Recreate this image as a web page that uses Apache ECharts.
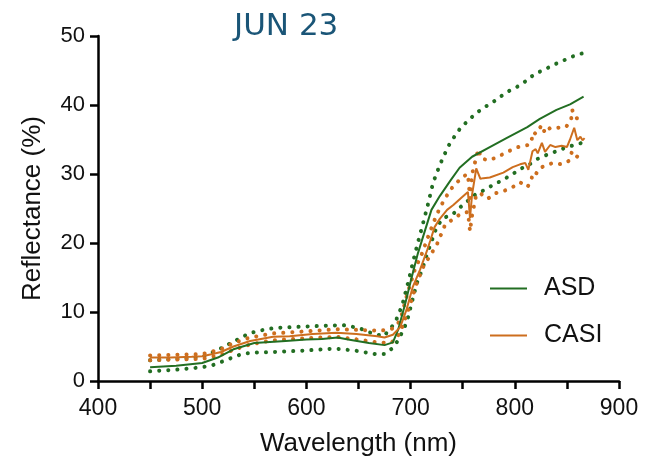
<!DOCTYPE html>
<html>
<head>
<meta charset="utf-8">
<script src="https://cdn.jsdelivr.net/npm/echarts@6/dist/echarts.min.js"></script>
<style>html,body{margin:0;padding:0;background:#fff}#c{width:647px;height:468px}</style>
</head>
<body>
<div id="c"></div>
<script>
// ---- data ----
const titleText = 'JUN 23';
const seriesNames = ['ASD', 'CASI'];
const xTicks = [400, 500, 600, 700, 800, 900];
const yTicks = [0, 10, 20, 30, 40, 50];

const asdMeanWl = [450,475,500,515,530,550,580,600,615,630,640,660,675,683,688,695,701,707,714,720,728,738,747,759,776,792,812,824,840,853,866];
const asdMean   = [2.0,2.2,2.6,3.4,4.6,5.5,5.8,6.0,6.1,6.3,6.0,5.5,5.2,5.6,7.4,11.3,15.0,18.5,21.9,24.8,26.8,29.0,30.9,32.5,33.9,35.2,36.8,38.0,39.3,40.1,41.2];

const asdUpperWl = [450,475,500,515,530,545,555,570,600,635,650,665,675,677,685,692,697.5,704,709,712,717,721.5,725,728,736,742,748,755,762,770,778,786,794,803,812,819,828,837,846,855,865];
const asdUpper   = [3.0,3.2,3.5,4.5,5.7,6.9,7.3,7.7,7.9,8.1,7.7,6.8,6.5,7.0,8.4,11.0,14.2,18.3,21.2,22.9,25.8,28.7,30.1,31.3,34.0,35.4,36.7,37.7,38.7,39.6,40.3,41.2,42.0,42.7,43.6,44.5,45.1,45.8,46.4,47.0,47.5];

const asdLowerWl = [450,460,480,500,510,519,529,538,548,568,597,627,647,666,675,683,688,693,696.5,701,706,711,716,720.5,725,731,740,747,762,771,779,788,797,805,814,822,831,840,850,860,866];
const asdLower   = [1.4,1.5,1.7,2.0,2.3,2.8,3.4,3.9,4.1,4.2,4.4,4.7,4.4,3.9,3.9,4.8,5.9,7.4,8.6,11.3,14.2,16.1,18.5,20.4,22.3,23.6,24.1,25.1,27.0,27.7,28.4,29.1,29.9,30.7,31.4,32.2,32.8,33.3,33.9,34.3,34.6];

const casiMeanWl = [450,470,490,500,510,518,530,546,568,584,606,629,648,668,675,683,690,696,702,709,716,719,723,728,735,741,749,755,757,759,763,767,770,776,789,798,805,810,813,817,820,822,826,829,834,839,845,850,853,857,860,863,865,867];
const casiMean   = [3.4,3.4,3.5,3.6,3.9,4.2,5.0,5.8,6.4,6.5,6.8,7.0,6.8,6.5,6.3,6.7,7.8,10.3,13.6,16.1,19.0,20.4,22.3,23.5,24.8,25.5,26.6,27.4,23.6,27.0,30.8,29.3,29.4,29.5,30.2,31.0,31.4,31.6,30.6,33.3,33.6,33.0,34.5,33.2,34.2,33.9,34.1,33.9,35.0,36.7,34.9,35.4,34.9,35.2];

const casiUpperWl = [450,500,518,530,546,568,600,629,650,668,680,685,690,697,704,711,718,725,731,738,744,750,755,757,759,765,768,776,785,794,803,810,815,818,820,826,829,834,841,849,854,855,859,862,866];
const casiUpper   = [3.7,3.9,4.6,5.5,6.3,6.9,7.2,7.5,7.4,7.3,7.4,7.8,8.8,12.7,16.1,18.5,21.4,24.1,25.9,27.7,28.7,29.6,30.0,26.5,30.0,33.6,32.2,32.0,32.6,33.3,33.9,34.1,34.3,36.1,35.8,37.1,35.9,36.7,36.7,36.8,37.8,39.3,38.1,38.0,38.3];

const casiLowerWl = [450,500,518,530,546,568,600,629,650,668,680,685,690,695,700,706,712,718,725,733,741,749,755,757,759,763,767,774,781,789,798,805,812,815,818,821,826,832,837,845,852,855,857,860,866];
const casiLower   = [3.0,3.2,3.8,4.5,5.3,5.9,6.2,6.4,6.0,5.6,5.5,5.9,7.1,9.1,11.3,14.2,16.5,18.0,19.7,22.6,23.5,24.3,24.5,21.7,24.0,27.0,27.2,26.4,27.2,27.5,28.1,28.8,28.1,28.8,30.3,30.1,31.0,31.4,31.6,31.4,31.9,33.3,32.9,32.5,32.2];

// ---- styling ----
const GREEN = '#226e22';
const ORANGE = '#cd6e1e';
const zip = (xs, ys) => xs.map((x, i) => [x, ys[i]]);
const dotted = (name, color, xs, ys) => ({
  name, type: 'line', data: zip(xs, ys), symbol: 'none', silent: true,
  lineStyle: { color, width: 4, type: [0.1, 9], cap: 'round' }, z: 2
});
const solid = (name, color, xs, ys) => ({
  name, type: 'line', data: zip(xs, ys), symbol: 'none', silent: true,
  itemStyle: { color }, lineStyle: { color, width: 2 }, z: 3
});

const chart = echarts.init(document.getElementById('c'), null, { renderer: 'canvas' });
const axisFont = 'Liberation Sans';
chart.setOption({
  animation: false,
  backgroundColor: '#fff',
  title: {
    text: titleText, left: 229, top: 6,
    textStyle: { fontSize: 31, fontFamily: 'DejaVu Sans', fontWeight: 'normal', color: '#1a5577' }
  },
  legend: {
    data: seriesNames, orient: 'vertical', left: 485, top: 271,
    icon: 'rect', itemWidth: 37, itemHeight: 2, itemGap: 22,
    textStyle: { fontSize: 25, fontFamily: axisFont, color: '#111', lineHeight: 24, padding: [0, 0, 0, 12] }
  },
  grid: { left: 98, right: 28, top: 36, bottom: 87, containLabel: false },
  xAxis: {
    type: 'value', min: 400, max: 900, interval: 50,
    name: 'Wavelength (nm)', nameLocation: 'middle', nameGap: 50,
    nameTextStyle: { fontSize: 26, fontFamily: axisFont, color: '#111' },
    axisLine: { show: true, onZero: false, lineStyle: { color: '#000', width: 2.5 } },
    axisTick: { show: true, length: 8, lineStyle: { color: '#000', width: 2.5 } },
    axisLabel: {
      fontSize: 23, fontFamily: axisFont, color: '#111', margin: 16,
      formatter: v => (xTicks.includes(v) ? String(v) : '')
    },
    splitLine: { show: false }
  },
  yAxis: {
    type: 'value', min: 0, max: 50, interval: 10,
    name: 'Reflectance (%)', nameLocation: 'middle', nameGap: 52,
    nameTextStyle: { fontSize: 26, fontFamily: axisFont, color: '#111' },
    axisLine: { show: true, lineStyle: { color: '#000', width: 2.5 } },
    axisTick: { show: true, length: 8, lineStyle: { color: '#000', width: 2.5 } },
    axisLabel: {
      fontSize: 22, fontFamily: axisFont, color: '#111', margin: 13,
      formatter: v => (yTicks.includes(v) ? String(v) : '')
    },
    splitLine: { show: false }
  },
  series: [
    dotted('ASD upper', GREEN, asdUpperWl, asdUpper),
    dotted('ASD lower', GREEN, asdLowerWl, asdLower),
    dotted('CASI upper', ORANGE, casiUpperWl, casiUpper),
    dotted('CASI lower', ORANGE, casiLowerWl, casiLower),
    solid('ASD', GREEN, asdMeanWl, asdMean),
    solid('CASI', ORANGE, casiMeanWl, casiMean)
  ]
});
</script>
</body>
</html>
